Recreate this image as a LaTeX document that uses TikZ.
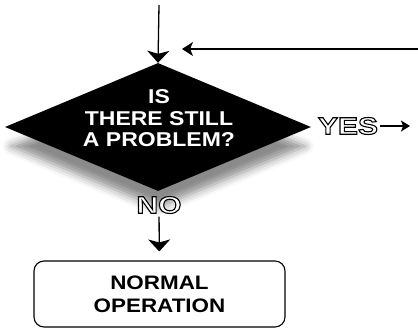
\documentclass[tikz,border=0pt]{standalone}
\usepackage{fontspec}
\setmainfont{Liberation Sans}
\newfontfamily\widefont[FakeStretch=1.15]{Liberation Sans}
\newfontfamily\outlinefont[FakeStretch=1.25]{Liberation Sans}
\newcommand\outlined[1]{\special{pdf:literal direct 2 Tr 1.1 w 0 G}#1\special{pdf:literal direct 0 Tr}}
\usetikzlibrary{arrows.meta,positioning,shapes.geometric,shadows.blur}

\begin{document}
\begin{tikzpicture}[
  x=1pt, y=-1pt,
  decision/.style={diamond, fill=black, minimum width=306pt, minimum height=128pt, inner sep=0pt},
  box/.style={rectangle, rounded corners=10pt, draw, line width=1.1pt, minimum width=251pt, minimum height=66pt, align=center, font=\widefont\bfseries\fontsize{19.5}{23}\selectfont},
  question/.style={text=white, align=center, inner sep=0pt, font=\widefont\bfseries\fontsize{20}{21.5}\selectfont},
  answer/.style={text=white, inner sep=0pt, font=\outlinefont\bfseries\fontsize{24}{26}\selectfont},
  arrow/.style={-{Stealth[length=12pt,width=22pt,inset=3pt]}, line width=1.3pt},
  sidearrow/.style={-{Stealth[length=11pt,width=14pt,inset=3pt]}, line width=1.3pt},
  smallarrow/.style={-{Stealth[length=9pt,width=11pt,inset=2pt]}, line width=1.3pt}
]
\useasboundingbox (0,0) rectangle (418,330);

\node[decision, blur shadow={shadow xshift=0pt, shadow yshift=-20pt, shadow scale=0.96, shadow blur radius=9pt, shadow opacity=46}] (check) at (158,127) {};
\node[question] (q) at (159,118.5) {IS\\THERE STILL\\A PROBLEM?};
\node[answer] (yes) at (348,126) {\outlined{YES}};
\node[answer] (no) at (159,205) {\outlined{NO}};
\node[box] (normal) at (159.5,294) {NORMAL\\OPERATION};

\coordinate (start) at (159,5);
\coordinate (loopin) at (418,49);
\coordinate (loopend) at (182,49);
\coordinate (fixit) at (410,126);

\draw[arrow] (start) -- (check.north);
\draw[sidearrow] (loopin) -- (loopend);
\draw[smallarrow, shorten <=2pt] (yes) -- (fixit);
\draw[arrow, shorten <=3pt, shorten >=9pt] (no) -- (normal);

\end{tikzpicture}
\end{document}
